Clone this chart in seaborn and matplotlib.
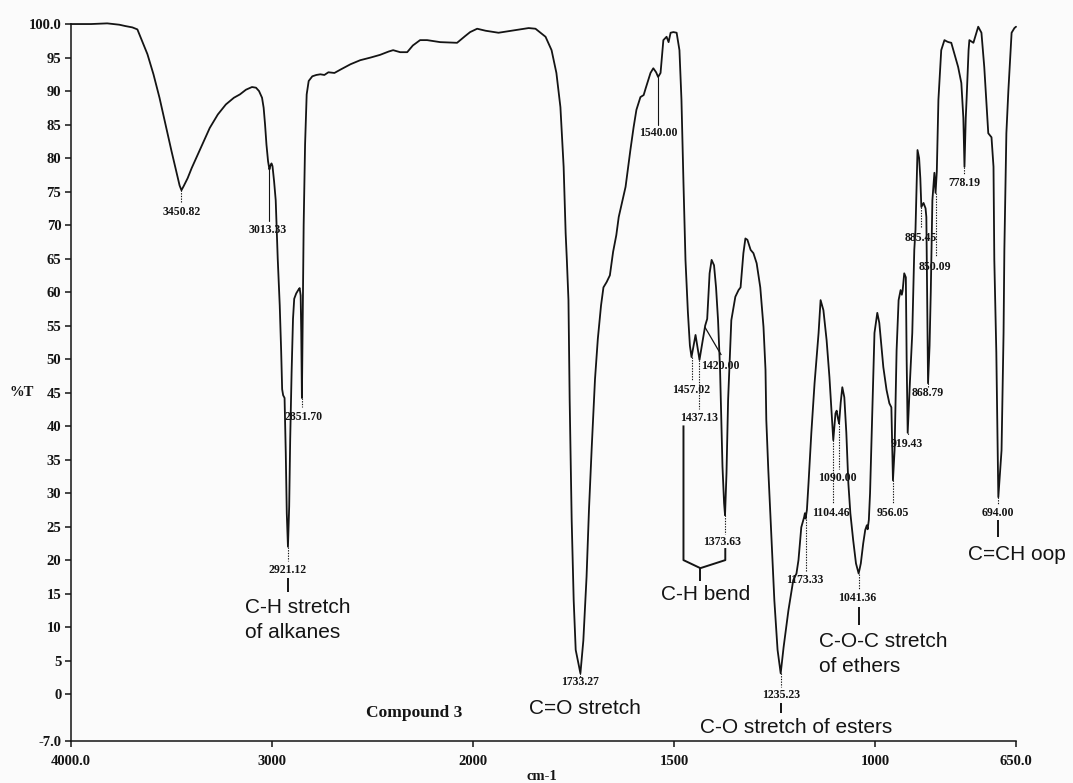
import numpy as np
import pandas as pd
import matplotlib
matplotlib.use("Agg")
import matplotlib.pyplot as plt
import seaborn as sns

# ---------------------------------------------------------------- data
wavenumber = [
    4000, 3900, 3820, 3760, 3730, 3695, 3670, 3640, 3620, 3590, 3560, 3530,
    3500, 3475, 3460, 3450.82, 3440, 3420, 3400, 3370, 3340, 3310, 3270, 3230,
    3190, 3160, 3130, 3100, 3080, 3065, 3050, 3042, 3035, 3028, 3020, 3013.33,
    3008, 3003, 2998, 2990, 2982, 2972, 2962, 2955, 2950, 2945, 2938, 2932,
    2927, 2921.12, 2915, 2910, 2903, 2896, 2890, 2880, 2870, 2863, 2858, 2855,
    2851.70, 2848, 2843, 2836, 2828, 2818, 2800, 2780, 2760, 2740, 2720, 2690,
    2660, 2610, 2562, 2510, 2463, 2420, 2398, 2363, 2328, 2300, 2264, 2229,
    2164, 2080, 2040, 2015, 1990, 1969, 1937, 1905, 1862, 1845, 1820, 1805,
    1793, 1783, 1775, 1770, 1767, 1763, 1760, 1755, 1750, 1745, 1733.27, 1726,
    1718, 1712, 1705, 1697, 1690, 1682, 1676, 1668, 1660, 1652, 1644, 1638,
    1621, 1609, 1601, 1594, 1584, 1576, 1571, 1559, 1552, 1545, 1540.00, 1534,
    1527, 1519, 1514, 1509, 1502, 1494, 1487, 1482, 1477, 1472, 1466, 1461,
    1457.02, 1447, 1437.13, 1430, 1423, 1418, 1412, 1407, 1401, 1396, 1391, 1386,
    1383, 1380, 1376, 1373.63, 1370, 1366, 1362, 1358, 1348, 1340, 1335, 1328,
    1323, 1318, 1310, 1303, 1295, 1286, 1278, 1273, 1271, 1266, 1258, 1251,
    1243, 1235.23, 1228, 1216, 1204, 1196, 1191, 1184, 1177, 1175, 1173.33, 1170,
    1166, 1159, 1151, 1141, 1136, 1129, 1121, 1114, 1109, 1104.46, 1099, 1096,
    1093, 1090.00, 1086, 1082, 1077, 1072, 1067, 1062, 1055, 1048, 1041.36, 1036,
    1030, 1025, 1021, 1019, 1016, 1013, 1010, 1002, 995, 990, 980, 972,
    965, 960, 956.05, 952, 947, 942, 937, 934, 932, 928, 924, 922,
    919.43, 914, 908, 903, 900, 895, 891, 888, 885.45, 880, 875, 873,
    870, 868.79, 865, 862, 858, 853, 850.09, 847, 843, 836, 828, 822,
    818, 811, 794, 786, 781, 778.19, 775, 773, 768, 766, 756, 754,
    744, 736, 729, 719, 711, 706, 704, 699, 694.00, 686, 681, 679,
    674, 669, 661, 654, 650,
]
transmittance = [
    100.0, 100.0, 100.1, 99.9, 99.7, 99.5, 99.2, 97.0, 95.5, 92.5, 89.0, 85.0,
    81.0, 77.8, 75.9, 75.2, 75.8, 77.0, 78.5, 80.5, 82.5, 84.5, 86.5, 88.0,
    89.0, 89.5, 90.2, 90.6, 90.5, 90.0, 89.0, 87.5, 85.0, 82.0, 79.5, 78.3,
    78.9, 79.2, 78.8, 76.5, 73.7, 65.0, 58.0, 51.3, 45.5, 44.6, 44.2, 36.0,
    27.0, 22.0, 28.0, 38.0, 48.0, 56.0, 59.0, 59.8, 60.3, 60.6, 59.5, 54.0,
    44.2, 55.0, 70.0, 82.0, 89.5, 91.5, 92.2, 92.4, 92.5, 92.4, 92.8, 92.7,
    93.2, 94.0, 94.6, 95.0, 95.4, 95.9, 96.1, 95.8, 95.8, 96.8, 97.6, 97.6,
    97.3, 97.2, 98.2, 98.8, 99.3, 99.0, 98.7, 99.0, 99.4, 99.3, 98.1, 96.1,
    92.7, 87.6, 78.7, 68.8, 64.8, 58.8, 43.9, 26.0, 14.0, 6.6, 3.1, 8.0,
    17.5, 27.5, 37.0, 47.0, 53.0, 58.0, 60.7, 61.5, 62.5, 66.0, 68.5, 71.2,
    75.7, 81.2, 84.6, 87.2, 89.1, 89.4, 90.4, 92.7, 93.4, 92.8, 92.1, 92.7,
    97.6, 98.1, 97.3, 98.7, 98.8, 98.7, 96.1, 88.7, 76.3, 64.8, 57.0, 52.0,
    50.3, 53.6, 49.9, 52.5, 55.0, 56.0, 62.8, 64.8, 64.0, 60.7, 55.8, 48.4,
    40.9, 34.0, 28.5, 26.7, 33.0, 43.9, 50.0, 55.8, 59.3, 60.3, 60.7, 65.8,
    68.0, 67.8, 66.3, 65.8, 64.3, 60.7, 54.8, 48.4, 40.9, 33.4, 23.0, 14.0,
    6.6, 3.1, 7.0, 12.5, 17.0, 18.0, 20.0, 24.9, 26.4, 27.0, 26.2, 27.5,
    31.5, 39.0, 46.4, 53.9, 58.8, 57.3, 52.8, 47.3, 42.4, 37.9, 41.9, 42.3,
    41.2, 40.4, 43.5, 45.8, 44.3, 39.0, 31.5, 27.0, 23.0, 19.5, 18.0, 19.5,
    22.5, 24.5, 25.2, 24.6, 26.0, 30.0, 36.4, 53.9, 56.9, 55.4, 48.8, 45.4,
    43.4, 42.8, 31.9, 36.4, 51.3, 58.8, 60.3, 59.6, 60.2, 62.8, 62.2, 50.0,
    39.0, 46.4, 53.9, 66.3, 69.3, 81.2, 80.0, 77.0, 72.7, 73.3, 72.5, 71.2,
    54.3, 46.4, 52.0, 60.0, 73.7, 77.8, 74.8, 78.0, 88.7, 96.1, 97.6, 97.4,
    97.3, 97.2, 93.6, 91.2, 86.0, 78.7, 86.0, 88.7, 96.1, 97.6, 97.2, 97.6,
    99.6, 98.7, 93.6, 83.7, 83.1, 78.7, 64.8, 51.0, 29.4, 36.4, 53.9, 66.3,
    83.7, 90.1, 98.7, 99.4, 99.6,
]

peak_positions = [
    3450.82, 3013.33, 2921.12, 2851.70, 1733.27, 1540.00, 1457.02, 1437.13,
    1420.00, 1373.63, 1235.23, 1173.33, 1104.46, 1090.00, 1041.36, 956.05,
    919.43, 885.45, 868.79, 850.09, 778.19, 694.00,
]

x_ticks = [4000, 3000, 2000, 1500, 1000, 650]
x_tick_labels = ["4000.0", "3000", "2000", "1500", "1000", "650.0"]
y_ticks = [100, 95, 90, 85, 80, 75, 70, 65, 60, 55, 50, 45, 40, 35, 30,
           25, 20, 15, 10, 5, 0, -7]
y_tick_labels = ["100.0", "95", "90", "85", "80", "75", "70", "65", "60", "55",
                 "50", "45", "40", "35", "30", "25", "20", "15", "10", "5",
                 "0", "-7.0"]

sample_name = "Compound 3"
x_title = "cm-1"
y_title = "%T"

# ------------------------------------------------------- layout / styling
# peak -> (label x, label y, end of the drop line, drop line style)
peak_layout = {
    3450.82: (3450.82, 71.9, 73.3, "dot"),
    3013.33: (3020, 69.3, 70.6, "solid"),
    2921.12: (2921.12, 18.5, 19.9, "dot"),
    2851.70: (2843, 41.3, 42.8, "dot"),
    1733.27: (1733.27, 1.8, 2.6, "dot"),
    1540.00: (1540.00, 83.7, 85.0, "solid"),
    1457.02: (1457.02, 45.4, 46.8, "dot"),
    1437.13: (1437.13, 41.2, 42.6, "dot"),
    1373.63: (1381, 22.7, 23.9, "dot"),
    1235.23: (1235.23, -0.15, 1.0, "dot"),
    1173.33: (1175, 17.0, 18.2, "dot"),
    1104.46: (1111, 27.0, 28.4, "dot"),
    1090.00: (1094, 32.2, 33.6, "dot"),
    1041.36: (1044, 14.3, 15.5, "dot"),
    956.05: (957, 27.0, 28.4, "dot"),
    919.43: (922, 37.4, 38.6, "dot"),
    885.45: (888, 68.1, 69.5, "dot"),
    868.79: (870, 45.0, 45.8, "dot"),
    850.09: (851, 63.7, 65.2, "dot"),
    778.19: (778, 76.3, 77.6, "dot"),
    694.00: (694, 27.0, 28.4, "dot"),
}

sns.set_style("ticks")
plt.rcParams["font.family"] = ["Liberation Serif", "DejaVu Serif"]
plt.rcParams["axes.linewidth"] = 1.1

bg = "#fbfbfb"
ink = "#141414"

fig = plt.figure(figsize=(10.73, 7.83), dpi=100)
fig.patch.set_facecolor(bg)
ax = fig.add_axes([0.0662, 0.0536, 0.8807, 0.9157])
ax.set_facecolor(bg)

spectrum = pd.DataFrame({"wavenumber": wavenumber, "T": transmittance})
sns.lineplot(data=spectrum, x="wavenumber", y="T", sort=False,
             estimator=None, color=ink, linewidth=1.3, ax=ax)
ax.lines[0].set_clip_on(False)


# wavenumber axis: half scale above 2000 cm-1, full scale below
def _fwd(w):
    w = np.asarray(w, dtype=float)
    return np.where(w <= 2000, w, 2000 + (w - 2000) / 2)


def _inv(u):
    u = np.asarray(u, dtype=float)
    return np.where(u <= 2000, u, 2000 + (u - 2000) * 2)


ax.set_xscale("function", functions=(_fwd, _inv))
ax.set_xlim(4000, 650)
ax.set_ylim(-7, 100)

ax.set_xticks(x_ticks, labels=x_tick_labels)
ax.set_yticks(y_ticks, labels=y_tick_labels)
ax.minorticks_off()
ax.tick_params(axis="both", direction="out", length=4, width=1.1,
               color=ink, labelcolor=ink, labelsize=10.5)
ax.tick_params(axis="y", pad=3)
ax.tick_params(axis="x", pad=6)
for lab in ax.get_xticklabels() + ax.get_yticklabels():
    lab.set_fontweight("bold")
ax.set_xlabel("")
ax.set_ylabel("")
sns.despine(ax=ax)
for s in ("left", "bottom"):
    ax.spines[s].set_color(ink)

fig.text(22 / 1073, 1 - 392 / 783, y_title, ha="center", va="center",
         fontsize=10.5, fontweight="bold", color=ink)
fig.text(542 / 1073, 1 - 777 / 783, x_title, ha="center", va="center",
         fontsize=10.5, fontweight="bold", color=ink)

# peak wavenumber labels with their drop lines
asc_w = np.array(wavenumber)[::-1]
asc_t = np.array(transmittance)[::-1]
for pk in peak_positions:
    t_curve = float(np.interp(pk, asc_w, asc_t))
    if pk == 1420.00:
        ax.plot([1424, 1383], [54.8, 50.6], color=ink, lw=0.9,
                solid_capstyle="butt")
        ax.text(1432, 48.9, f"{pk:.2f}", ha="left", va="center",
                fontsize=8.5, fontweight="bold", color=ink)
        continue
    lx, ly, yend, style = peak_layout[pk]
    ls = (0, (1.2, 1.2)) if style == "dot" else "-"
    ax.plot([pk, pk], [t_curve, yend], color=ink, lw=0.8, ls=ls)
    ax.text(lx, ly, f"{pk:.2f}", ha="center", va="center",
            fontsize=8.5, fontweight="bold", color=ink)

# band assignment callouts
sans = ["Liberation Sans", "DejaVu Sans"]
band_kw = dict(fontsize=15, family=sans, color=ink)
line_kw = dict(color=ink, lw=1.4, solid_capstyle="butt")

ax.plot([2921.12, 2921.12], [17.3, 15.2], **line_kw)
ax.text(3134, 12.1, "C-H stretch", ha="left", va="baseline", **band_kw)
ax.text(3134, 8.4, "of alkanes", ha="left", va="baseline", **band_kw)

ax.text(1721, -3.0, "C=O stretch", ha="center", va="baseline", **band_kw)
ax.text(2294, -3.4, sample_name, ha="center", va="baseline",
        fontsize=12.5, fontweight="bold", color=ink)

ax.plot([1477, 1477, 1435, 1373, 1373], [40.1, 20.0, 18.8, 20.0, 21.8],
        **line_kw)
ax.plot([1435, 1435], [18.8, 16.9], **line_kw)
ax.text(1423, 14.0, "C-H bend", ha="center", va="baseline", **band_kw)

ax.plot([1235.23, 1235.23], [-1.3, -2.8], **line_kw)
ax.text(1198, -5.8, "C-O stretch of esters", ha="center", va="baseline",
        **band_kw)

ax.plot([1041.36, 1041.36], [13.0, 10.3], **line_kw)
ax.text(1139, 7.0, "C-O-C stretch", ha="left", va="baseline", **band_kw)
ax.text(1139, 3.3, "of ethers", ha="left", va="baseline", **band_kw)

ax.plot([694.0, 694.0], [26.0, 23.4], **line_kw)
ax.text(647, 20.0, "C=CH oop", ha="center", va="baseline", clip_on=False,
        **band_kw)

fig.savefig("out.png", dpi=100, facecolor=bg)
